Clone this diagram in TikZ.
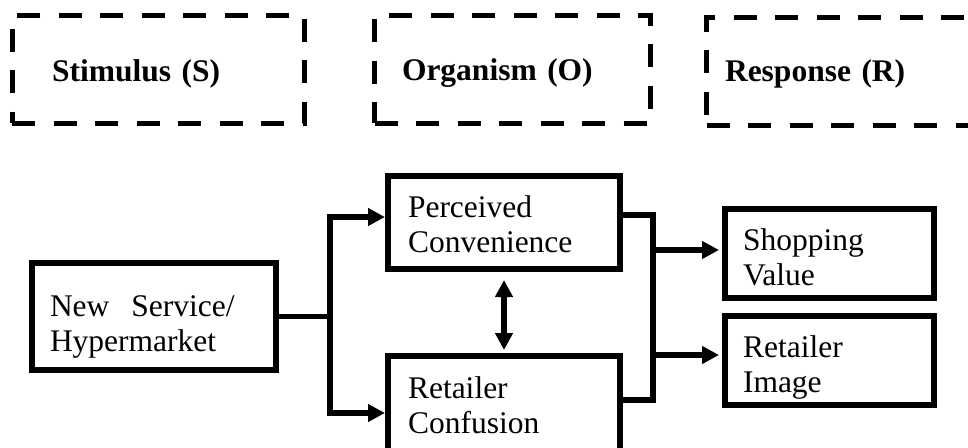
\documentclass[tikz,border=0pt]{standalone}
\usepackage{fontspec}
\setmainfont{Liberation Serif}
\usetikzlibrary{arrows.meta}

% Lines set as one block, lowered by #1 without changing the block's size
\newcommand\droplines[2]{\raisebox{-#1}[\height][\depth]{\begin{tabular}{@{}l@{}}#2\end{tabular}}}

\tikzset{
  stage/.style={draw, line width=5pt, dash pattern=on 23pt off 18.5pt,
    align=left, font=\bfseries\fontsize{31.5}{35}\selectfont,
    minimum height=108pt},
  box/.style={draw, line width=6pt, line join=miter, align=left,
    font=\fontsize{31.5}{35}\selectfont},
  conn/.style={line width=5.5pt, line join=miter},
  arr/.style={conn, -{Triangle[length=17pt,width=17pt]}},
  arrboth/.style={conn, {Triangle[length=17pt,width=17pt]}-{Triangle[length=17pt,width=17pt]}},
}

\begin{document}
\begin{tikzpicture}[x=1pt, y=-1pt]
  \clip (0,0) rectangle (968,447);
  \fill[white] (0,0) rectangle (968,447);

  % S-O-R stage headers
  \node[stage, inner xsep=40pt, text width=212pt] (stim) at (158,69)
    {\droplines{5pt}{Stimulus (S)}};
  \node[stage, inner xsep=27.5pt, text width=221pt] (org) at (512.5,69)
    {\droplines{4pt}{Organism (O)}};
  \node[stage, inner xsep=18.5pt, text width=266pt] (resp) at (858,71)
    {\droplines{3pt}{Response (R)}};

  % Constructs
  \node[box, inner xsep=18pt, text width=208pt, minimum height=107pt] (ns) at (154,316.5)
    {\droplines{10pt}{New\hspace{22pt}Service/\\Hypermarket}};
  \node[box, inner xsep=20pt, text width=192pt, minimum height=93pt] (pc) at (504,222.5)
    {\droplines{5pt}{Perceived\\Convenience}};
  \node[box, inner xsep=20pt, text width=192pt, minimum height=100pt] (rc) at (504,406)
    {\droplines{3pt}{Retailer\\Confusion}};
  \node[box, inner xsep=18pt, text width=173pt, minimum height=89pt] (sv) at (829.5,253.5)
    {\droplines{7pt}{Shopping\\Value}};
  \node[box, inner xsep=18pt, text width=173pt, minimum height=89pt] (ri) at (829.5,360.5)
    {\droplines{7pt}{Retailer\\Image}};

  % Stimulus fork
  \coordinate (fork) at (330,316.5);
  \coordinate (pcIn) at (385,217);
  \coordinate (rcIn) at (385,413);
  \draw[conn] (ns.east) -- (fork);
  \draw[arr] (fork) |- (pcIn);
  \draw[arr] (fork) |- (rcIn);

  % Organism link
  \draw[arrboth, shorten <=8pt, shorten >=3pt] (pc.south) -- (pc.south |- rc.north);

  % Organism bus to responses
  \coordinate (pcOut) at (620,215);
  \coordinate (busTop) at (653,215);
  \coordinate (busBot) at (653,400);
  \coordinate (rcOut) at (620,400);
  \draw[conn] (pcOut) -- (busTop) -- (busBot) -- (rcOut);
  \coordinate (svTap) at (653,250);
  \coordinate (riTap) at (653,355);
  \draw[arr, shorten >=3pt] (svTap) -- (svTap -| sv.west);
  \draw[arr, shorten >=3pt] (riTap) -- (riTap -| ri.west);
\end{tikzpicture}
\end{document}
